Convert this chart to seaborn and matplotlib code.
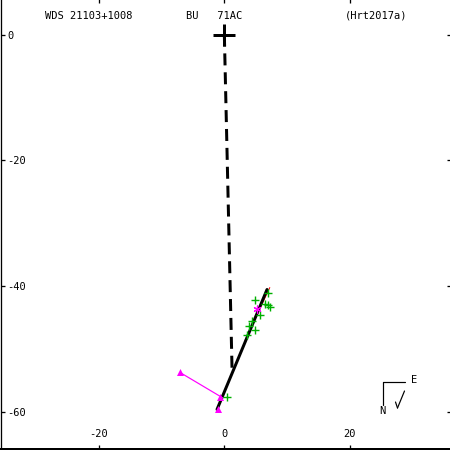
import matplotlib
matplotlib.use("Agg")
import matplotlib.pyplot as plt
from matplotlib.lines import Line2D
import seaborn as sns
import pandas as pd

# ---- data (arcsec-like units) ----
obs_x = [4.90, 6.49, 6.97, 7.29, 6.97, 5.69, 3.94, 4.42, 4.90, 3.62, 0.43]
obs_y = [-42.10, -42.89, -43.05, -43.37, -41.14, -44.64, -46.23, -45.59, -47.02, -47.66, -57.51]

tri_x = [-7.07, -0.69, -1.01]
tri_y = [-53.69, -57.51, -59.57]

hist_line_x = [-7.07, -0.30]
hist_line_y = [-53.69, -57.70]

star_x = [5.21]
star_y = [-43.53]

orbit_x = [-1.17, 6.81]
orbit_y = [-59.57, -40.51]

red_x = [3.30, 7.25]
red_y = [-48.60, -40.20]

apsides_x = [0.0, 1.23]
apsides_y = [0.0, -53.2]

primary_x = [0.0]
primary_y = [0.0]

xticks = [-20, 0, 20]
yticks = [0, -20, -40, -60]

title_left = "WDS 21103+1008"
title_mid = "BU   71AC"
title_right = "(Hrt2017a)"

# ---- figure ----
sns.set_style("white")
plt.rcParams["font.family"] = ["DejaVu Sans Mono", "DejaVu Sans"]
plt.rcParams["axes.unicode_minus"] = False

W = 450
fig = plt.figure(figsize=(4.5, 4.5), dpi=100)
ax = fig.add_axes([0.5 / W, 1.0 / W, 1.0, 1.0])
ax.set_xlim(-35.7, 36.07)
ax.set_ylim(-65.85, 5.64)

pt = 72.0 / 100.0  # points per pixel
GREEN = "#00b000"
MAG = "#ff00ff"

# apsides dashed line
sns.lineplot(x=apsides_x, y=apsides_y, ax=ax, color="black", lw=3 * pt,
             sort=False, estimator=None)
ax.lines[-1].set_dashes((4, 2.3))
ax.lines[-1].set_dash_capstyle("butt")

# orbit
sns.lineplot(x=red_x, y=red_y, ax=ax, color="red", lw=1 * pt, sort=False, estimator=None)
sns.lineplot(x=orbit_x, y=orbit_y, ax=ax, color="black", lw=3 * pt, sort=False, estimator=None)

# historical magenta connection
sns.lineplot(x=hist_line_x, y=hist_line_y, ax=ax, color=MAG, lw=1.2 * pt,
             sort=False, estimator=None)

# observations
sns.scatterplot(x=obs_x, y=obs_y, ax=ax, marker="+", color=GREEN, edgecolor=GREEN,
                s=(8 * pt) ** 2, linewidth=1.4 * pt, zorder=5)
sns.scatterplot(x=tri_x, y=tri_y, ax=ax, marker="^", color=MAG, s=(7 * pt) ** 2,
                linewidth=0, zorder=6)
sns.scatterplot(x=star_x, y=star_y, ax=ax, marker=(6, 2, 0), color=MAG, edgecolor=MAG,
                s=(7 * pt) ** 2, linewidth=1.2 * pt, zorder=6)

# primary
sns.scatterplot(x=primary_x, y=primary_y, ax=ax, marker="+", color="black", edgecolor="black",
                s=(22 * pt) ** 2, linewidth=3 * pt, zorder=7)

# axes styling
for side in ["top", "right"]:
    ax.spines[side].set_visible(False)
ax.spines["left"].set_color("black")
ax.spines["left"].set_linewidth(1.3 * pt)
ax.spines["bottom"].set_color("black")
ax.spines["bottom"].set_linewidth(2 * pt)

ax.set_xticks(xticks)
ax.set_yticks(yticks)
ax.set_xticklabels([str(v) for v in xticks])
ax.set_yticklabels([str(v) for v in yticks])
ax.tick_params(axis="both", which="both", direction="in", length=4 * pt, width=1.3 * pt,
               color="black", top=True, right=True, left=True, bottom=True,
               labelsize=7.5, labelcolor="black")
ax.tick_params(axis="x", pad=-15 * pt)
ax.tick_params(axis="y", pad=-6.5 * pt)
for lab in ax.get_xticklabels():
    lab.set_verticalalignment("center")
for lab in ax.get_yticklabels():
    lab.set_horizontalalignment("left")
ax.grid(False)
ax.set_xlabel("")
ax.set_ylabel("")

# header texts
def ftext(px, py, s, **kw):
    fig.text(px / W, 1 - py / W, s, fontsize=7.5, color="black", va="center", **kw)

ftext(45, 16, title_left, ha="left")
ftext(186, 16, title_mid, ha="left")
ftext(345, 16, title_right, ha="left")

# compass
def fline(xs, ys, lw=1.2):
    fig.add_artist(Line2D([x / W for x in xs], [1 - y / W for y in ys],
                          transform=fig.transFigure, color="black", lw=lw * pt))

fline([383, 405], [381.5, 381.5])
fline([383, 383], [381.5, 405])
fline([404.5, 397.5], [391, 408])
fline([395.5, 397.5], [402, 408])
ftext(411, 380, "E", ha="left")
ftext(382, 411, "N", ha="center")

fig.savefig("out.png", dpi=100)
